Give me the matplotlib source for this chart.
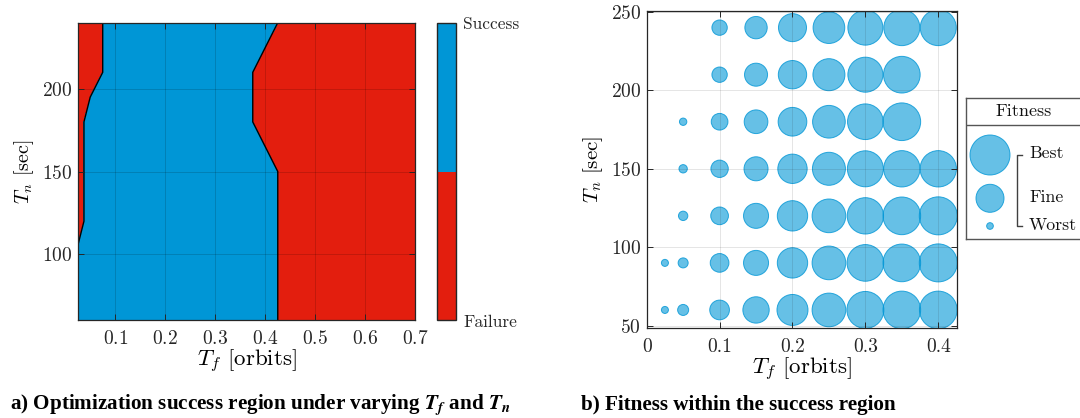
import numpy as np
import matplotlib
matplotlib.use("Agg")
import matplotlib.pyplot as plt

plt.rcParams["font.family"] = "cmr10"
plt.rcParams["mathtext.fontset"] = "cm"
plt.rcParams["axes.formatter.use_mathtext"] = True

W, H = 1080, 418
BLUE = "#0096D6"
RED = "#E31E0E"
AXC = "#262626"

# grid of the study: final time Tf [orbits] and node spacing Tn [sec]
tf_grid = [0.025, 0.05, 0.1, 0.15, 0.2, 0.25, 0.3, 0.35, 0.4,
           0.45, 0.5, 0.55, 0.6, 0.65, 0.7]
tn_grid = [60, 90, 120, 150, 180, 210, 240]

# 1 = optimization converged, 0 = failed (rows follow tn_grid)
success = [
    [1, 1, 1, 1, 1, 1, 1, 1, 1, 0, 0, 0, 0, 0, 0],
    [1, 1, 1, 1, 1, 1, 1, 1, 1, 0, 0, 0, 0, 0, 0],
    [0, 1, 1, 1, 1, 1, 1, 1, 1, 0, 0, 0, 0, 0, 0],
    [0, 1, 1, 1, 1, 1, 1, 1, 1, 0, 0, 0, 0, 0, 0],
    [0, 1, 1, 1, 1, 1, 1, 1, 0, 0, 0, 0, 0, 0, 0],
    [0, 0, 1, 1, 1, 1, 1, 1, 0, 0, 0, 0, 0, 0, 0],
    [0, 0, 1, 1, 1, 1, 1, 1, 1, 0, 0, 0, 0, 0, 0],
]

# normalised fitness inside the success region (0 = worst, 1 = best)
tf_fit = [0.025, 0.05, 0.1, 0.15, 0.2, 0.25, 0.3, 0.35, 0.4]
nan = np.nan
fitness = [
    [0.01, 0.13, 0.39, 0.59, 0.73, 0.81, 0.91, 0.93, 0.93],
    [0.01, 0.10, 0.36, 0.55, 0.71, 0.81, 0.90, 0.93, 0.94],
    [nan,  0.08, 0.33, 0.55, 0.71, 0.81, 0.89, 0.93, 0.94],
    [nan,  0.05, 0.32, 0.52, 0.68, 0.79, 0.88, 0.89, 0.89],
    [nan,  0.02, 0.30, 0.51, 0.66, 0.78, 0.87, 0.93, nan],
    [nan,  nan,  0.26, 0.49, 0.65, 0.76, 0.85, 0.90, nan],
    [nan,  nan,  0.26, 0.47, 0.64, 0.75, 0.85, 0.88, 0.88],
]
legend_levels = [1.0, 0.64, 0.0]
legend_names = ["Best", "Fine", "Worst"]


def px(x0, y0, x1, y1):
    return [x0 / W, 1 - y1 / H, (x1 - x0) / W, (y1 - y0) / H]


def bubble_size(f):
    d = 6.7 + np.asarray(f) * 33.3     # diameter in pixels
    return (d * 0.72) ** 2


def style(ax):
    ax.tick_params(direction="in", top=True, right=True, length=4,
                   width=0.7, colors=AXC, labelsize=14)
    ax.tick_params(axis="x", pad=7)
    ax.tick_params(axis="y", pad=4)
    for s in ax.spines.values():
        s.set_edgecolor(AXC)
        s.set_linewidth(0.9)


fig = plt.figure(figsize=(W / 100, H / 100), dpi=100)

# ---- a) success region
ax = fig.add_axes(px(77.7, 22.7, 415.3, 320.4))
X, Y = np.meshgrid(tf_grid, tn_grid)
Z = np.array(success, dtype=float)
cf = ax.contourf(X, Y, Z, levels=[0, 0.5, 1], colors=[RED, BLUE])
ax.contour(X, Y, Z, levels=[0.5], colors="k", linewidths=1.0)
ax.set_xlim(0.025, 0.7)
ax.set_ylim(60, 240)
ax.set_xticks([0.1, 0.2, 0.3, 0.4, 0.5, 0.6, 0.7])
ax.set_yticks([100, 150, 200])
ax.set_axisbelow(False)
ax.grid(True, color="k", alpha=0.15, lw=0.7)
style(ax)
ax.set_xlabel(r"$T_f$ [orbits]", fontsize=16.5, labelpad=0)
ax.set_ylabel(r"$T_n$ [sec]", fontsize=14.5, labelpad=4)

cax = fig.add_axes(px(436.7, 22.7, 456, 320.4))
cb = fig.colorbar(cf, cax=cax)
cb.set_ticks([0, 1])
cb.set_ticklabels(["Failure", "Success"])
cax.tick_params(length=0, labelsize=12.5, pad=5, colors=AXC)
cb.outline.set_edgecolor(AXC)
cb.outline.set_linewidth(1.0)

# ---- b) fitness bubbles
bx = fig.add_axes(px(646.7, 10.7, 957, 328.3))
F = np.array(fitness, dtype=float)
TFm, TNm = np.meshgrid(tf_fit, tn_grid)
ok = ~np.isnan(F)
bx.scatter(TFm[ok], TNm[ok], s=bubble_size(F[ok]),
           facecolor=(0.0, 0.588, 0.839, 0.6),
           edgecolor=(0.0, 0.588, 0.839, 0.8), linewidths=0.7, zorder=2)
bx.set_xlim(0, 0.4257)
bx.set_ylim(48.3, 250.8)
bx.set_xticks([0, 0.1, 0.2, 0.3, 0.4])
bx.set_xticklabels(["0", "0.1", "0.2", "0.3", "0.4"])
bx.set_yticks([50, 100, 150, 200, 250])
bx.set_axisbelow(False)
bx.grid(True, color=AXC, alpha=0.12, lw=0.7)
style(bx)
bx.set_xlabel(r"$T_f$ [orbits]", fontsize=16.5, labelpad=0)
bx.set_ylabel(r"$T_n$ [sec]", fontsize=15, labelpad=4)

# legend drawn by hand
lx = fig.add_axes(px(966, 98.3, 1090, 239))
lx.set_xlim(966, 1090)
lx.set_ylim(239, 98.3)
lx.set_xticks([])
lx.set_yticks([])
lx.set_facecolor("white")
for s in lx.spines.values():
    s.set_edgecolor("#555555")
    s.set_linewidth(1.0)
lx.plot([966, 1090], [125, 125], color="#555555", lw=1.0)
lx.text(1024, 111, "Fitness", ha="center", va="center", fontsize=13, color="#111111")
ly = [155, 198.3, 226]
lx.scatter([990] * 3, ly, s=bubble_size(legend_levels),
           facecolor=(0.0, 0.588, 0.839, 0.6),
           edgecolor=(0.0, 0.588, 0.839, 0.8), linewidths=0.7, clip_on=False)
lx.plot([1021.7, 1016.7, 1016.7, 1021.7], [155, 155, 226, 226],
        color="#404040", lw=1.0)
for name, yy in zip(legend_names, [153.3, 197.3, 225]):
    lx.text(1029, yy, name, ha="left", va="center", fontsize=12.8, color="#111111")

# ---- captions
cap = dict(family="Liberation Serif", weight="bold", fontsize=15.2,
           va="center", ha="left", math_fontfamily="stix")
fig.text(10 / W, 1 - 405 / H,
         r"a) Optimization success region under varying $\mathbfit{T_f}$ and $\mathbfit{T_n}$",
         **cap)
fig.text(580.7 / W, 1 - 405 / H, "b) Fitness within the success region", **cap)

fig.savefig("out.png", dpi=100, facecolor="white")
